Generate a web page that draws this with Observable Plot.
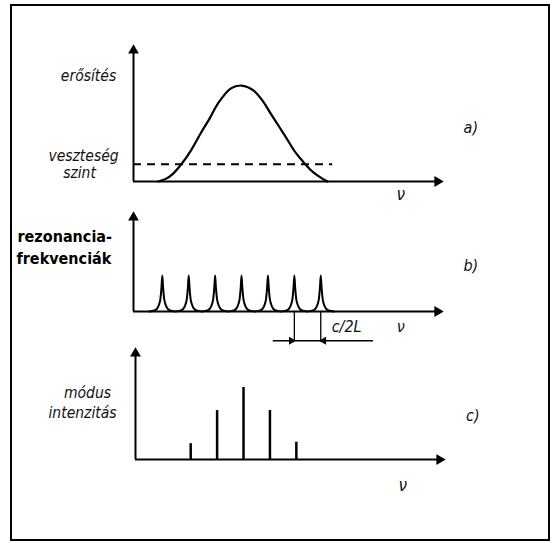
<!DOCTYPE html>
<html>
<head>
<meta charset="utf-8">
<script src="https://cdn.jsdelivr.net/npm/d3@7"></script>
<script src="https://cdn.jsdelivr.net/npm/@observablehq/plot@0.6"></script>
<style>
  html, body { margin: 0; padding: 0; background: #fff; }
  #page { position: relative; width: 556px; height: 543px; overflow: hidden; background: #fff; }
  #frame { position: absolute; left: 10px; top: 4px; width: 536px; height: 533px; border: 2px solid #000; }
  .panel { position: absolute; left: 0; }
</style>
</head>
<body>
<div id="page"><div id="frame"></div></div>
<script>
// ---- data (frequency in units of the mode spacing c/2L) ----
const panelLabels = ["a)", "b)", "c)"];
const labelsA = ["erősítés", "veszteség", "szint"];
const labelsB = ["rezonancia-", "frekvenciák"];
const labelsC = ["módus", "intenzitás"];
const nuLabel = "ν";
const spacingLabel = "c/2L";

// a) gain curve (peak = 1)
const gainNu = [-0.15, 0.15, 0.4, 0.75, 1.1, 1.45, 1.8, 2.1, 2.6, 3.0, 3.45, 3.8, 4.1, 4.45, 4.75, 5.05, 5.35, 5.7, 6.0, 6.25];
const gainValue = [0, 0.03, 0.08, 0.19, 0.33, 0.5, 0.66, 0.81, 0.97, 1.0, 0.95, 0.84, 0.71, 0.56, 0.43, 0.3, 0.2, 0.1, 0.04, 0];
const lossLevel = 0.18;
const lossEnd = 6.45;

// b) resonance frequencies and the shape of one resonance peak
const resonanceNu = [0, 1, 2, 3, 4, 5, 6];
const peakOffset = [-0.5, -0.3, -0.2, -0.12, -0.07, -0.03, 0, 0.03, 0.07, 0.12, 0.2, 0.3, 0.5];
const peakShape  = [0, 0.03, 0.08, 0.2, 0.36, 0.67, 1, 0.67, 0.36, 0.2, 0.08, 0.03, 0];

// c) oscillating modes and their intensities
const modeNu = [1, 2, 3, 4, 5];
const modeIntensity = [0.22, 0.68, 1.0, 0.68, 0.24];

// ---- common x scale ----
const xDomain = [-1.09, 10.42];
const W = 556;
const font = "'DejaVu Sans Condensed', 'DejaVu Sans', sans-serif";
const xOpts = {domain: xDomain, axis: null};
const base = {width: W, marginLeft: 133, marginRight: 119, style: {overflow: "visible", background: "transparent"}};
const it = {fontFamily: font, fontStyle: "italic", fill: "#111"};

function axes(yMax) {
  return [
    Plot.ruleY([0], {x1: xDomain[0], x2: xDomain[1], stroke: "#000", strokeWidth: 2}),
    Plot.ruleX([xDomain[0]], {y1: 0, y2: yMax, stroke: "#000", strokeWidth: 2}),
    Plot.dot([{}], {x: xDomain[1], y: 0, symbol: "triangle", rotate: 90, r: 4, fill: "#000", stroke: "none"}),
    Plot.dot([{}], {x: xDomain[0], y: yMax, symbol: "triangle", rotate: 0, r: 4, fill: "#000", stroke: "none"})
  ];
}

function place(svg, top, left) {
  svg.classList.add("panel");
  svg.style.top = top + "px";
  svg.style.left = (left || 0) + "px";
  document.getElementById("page").appendChild(svg);
}

// ---- panel a ----
const gainData = gainNu.map((x, i) => ({x, y: gainValue[i]}));
const yA = [0, 1.365];
const plotA = Plot.plot({
  ...base, height: 200, marginTop: 50, marginBottom: 19,
  x: xOpts, y: {domain: yA, axis: null},
  marks: [
    ...axes(yA[1]),
    Plot.ruleY([lossLevel], {x1: xDomain[0], x2: lossEnd, stroke: "#000", strokeWidth: 2, strokeDasharray: "8,6"}),
    Plot.line(gainData, {x: "x", y: "y", curve: "catmull-rom", stroke: "#000", strokeWidth: 2.2}),
    Plot.text([labelsA[0]], {x: xDomain[0], y: 1.1, dx: -45, text: d => d, fontSize: 15.5, ...it}),
    Plot.text([labelsA[1]], {x: xDomain[0], y: 0.27, dx: -50, text: d => d, fontSize: 15.5, ...it}),
    Plot.text([labelsA[2]], {x: xDomain[0], y: 0.09, dx: -54, text: d => d, fontSize: 15.5, ...it}),
    Plot.text([nuLabel], {x: 9.03, y: -0.135, text: d => d, fontSize: 17, ...it}),
    Plot.text([panelLabels[0]], {x: 11.68, y: 0.56, text: d => d, fontSize: 16, ...it})
  ]
});
place(plotA, 0);

// ---- panel b ----
const resonanceLine = resonanceNu.flatMap(k => peakOffset.map((o, i) => ({x: k + o, y: peakShape[i]})));
const yB = [-0.944, 2.611];
const dimY = -0.81;
const plotB = Plot.plot({
  ...base, height: 150, marginTop: 17, marginBottom: 5,
  x: xOpts, y: {domain: yB, axis: null},
  marks: [
    ...axes(yB[1]),
    Plot.line(resonanceLine, {x: "x", y: "y", curve: "monotone-x", stroke: "#000", strokeWidth: 2}),
    Plot.ruleX([resonanceNu[5], resonanceNu[6]], {y1: 0, y2: dimY, stroke: "#000", strokeWidth: 1.3}),
    Plot.ruleY([dimY], {x1: 4.2, x2: 8.0, stroke: "#000", strokeWidth: 1.4}),
    Plot.dot([{}], {x: resonanceNu[5], y: dimY, dx: -3, symbol: "triangle", rotate: 90, r: 3, fill: "#000", stroke: "none"}),
    Plot.dot([{}], {x: resonanceNu[6], y: dimY, dx: 3, symbol: "triangle", rotate: -90, r: 3, fill: "#000", stroke: "none"}),
    Plot.text([spacingLabel], {x: 6.98, y: -0.42, text: d => d, fontSize: 16, ...it}),
    Plot.text([nuLabel], {x: 9.03, y: -0.42, text: d => d, fontSize: 16, ...it}),
    Plot.text([panelLabels[1]], {x: 11.68, y: 1.28, text: d => d, fontSize: 16, ...it}),
    Plot.text([labelsB[0]], {x: xDomain[0], y: 2.06, dx: -116, textAnchor: "start", text: d => d, fontSize: 16, fontWeight: "bold", fontFamily: font, fill: "#000"}),
    Plot.text([labelsB[1]], {x: xDomain[0], y: 1.47, dx: -117, textAnchor: "start", text: d => d, fontSize: 16, fontWeight: "bold", fontFamily: font, fill: "#000"})
  ]
});
place(plotB, 200);

// ---- panel c ----
const modeData = modeNu.map((x, i) => ({x, y: modeIntensity[i]}));
const yC = [-0.43, 1.472];
const plotC = Plot.plot({
  ...base, height: 170, marginTop: 13, marginBottom: 20,
  x: xOpts, y: {domain: yC, axis: null},
  marks: [
    ...axes(yC[1]),
    Plot.ruleX(modeData, {x: "x", y1: 0, y2: "y", stroke: "#000", strokeWidth: 2.5}),
    Plot.text([labelsC[0]], {x: xDomain[0], y: 0.93, dx: -48, text: d => d, fontSize: 15.5, ...it}),
    Plot.text([labelsC[1]], {x: xDomain[0], y: 0.65, dx: -53, text: d => d, fontSize: 15.5, ...it}),
    Plot.text([nuLabel], {x: 9.03, y: -0.36, text: d => d, fontSize: 17, ...it}),
    Plot.text([panelLabels[2]], {x: 11.68, y: 0.61, text: d => d, fontSize: 16, ...it})
  ]
});
place(plotC, 340, 2);
</script>
</body>
</html>
